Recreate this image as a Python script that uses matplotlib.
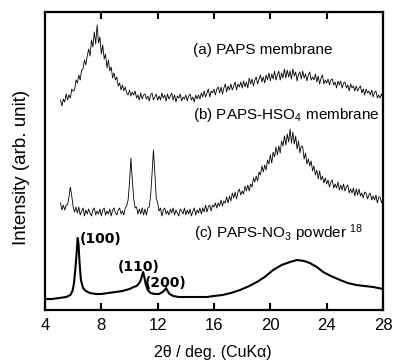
import numpy as np
import matplotlib
matplotlib.use("Agg")
import matplotlib.pyplot as plt

plt.rcParams['font.family'] = ['Liberation Sans', 'DejaVu Sans']
plt.rcParams['mathtext.default'] = 'regular'

# 2theta grid for the two membrane scans (step 0.1 deg)
two_theta_ab = np.round(np.arange(5.1, 28.0001, 0.1), 1)

# (a) PAPS membrane (arb. units)
int_a = [
    210, 204, 211, 208, 216, 210, 215, 212, 221, 219,
    220, 230, 227, 235, 230, 240, 241, 250, 245, 254,
    261, 254, 270, 263, 278, 266, 285, 267, 273, 256,
    265, 251, 256, 242, 250, 239, 243, 232, 237, 230,
    233, 224, 227, 220, 225, 219, 223, 217, 215, 220,
    214, 218, 215, 219, 212, 215, 210, 217, 211, 215,
    216, 211, 214, 209, 215, 217, 210, 213, 216, 210,
    214, 210, 217, 212, 215, 209, 216, 211, 214, 217,
    210, 215, 208, 214, 212, 216, 209, 213, 211, 215,
    209, 214, 216, 210, 213, 208, 215, 211, 215, 211,
    217, 213, 219, 213, 217, 221, 213, 219, 217, 221,
    215, 221, 223, 217, 223, 216, 222, 226, 218, 224,
    220, 226, 220, 224, 228, 220, 226, 223, 228, 222,
    229, 223, 228, 222, 232, 226, 231, 224, 230, 233,
    226, 231, 235, 228, 233, 227, 235, 230, 237, 229,
    236, 231, 239, 230, 235, 239, 230, 237, 232, 241,
    232, 240, 233, 239, 231, 241, 234, 238, 229, 236,
    238, 231, 239, 232, 236, 229, 235, 238, 230, 233,
    230, 236, 228, 234, 226, 232, 235, 226, 230, 227,
    231, 225, 230, 231, 225, 228, 222, 229, 225, 229,
    222, 227, 228, 222, 225, 219, 226, 222, 224, 219,
    224, 219, 222, 224, 217, 221, 215, 221, 217, 219,
    215, 220, 213, 218, 219, 212, 215, 212, 216, 212,
]

# (b) PAPS-HSO4 membrane (arb. units)
int_b = [
    107, 100, 105, 100, 105, 105, 113, 123, 114, 103,
    98, 103, 97, 103, 95, 99, 102, 94, 100, 96,
    101, 97, 94, 100, 102, 95, 99, 96, 101, 94,
    100, 102, 95, 99, 96, 101, 94, 100, 102, 97,
    95, 100, 102, 96, 99, 95, 102, 104, 110, 127,
    152, 130, 111, 102, 103, 96, 101, 96, 102, 95,
    101, 95, 102, 103, 114, 136, 160, 137, 112, 107,
    99, 102, 94, 100, 102, 96, 99, 95, 101, 97,
    102, 95, 100, 97, 94, 101, 99, 96, 102, 95,
    100, 96, 101, 94, 99, 102, 95, 100, 97, 102,
    96, 102, 98, 105, 98, 103, 105, 99, 105, 103,
    107, 102, 107, 104, 110, 104, 109, 107, 113, 107,
    114, 109, 117, 112, 118, 111, 118, 121, 115, 119,
    116, 124, 119, 125, 119, 126, 123, 132, 128, 134,
    129, 138, 135, 144, 138, 145, 140, 150, 146, 155,
    147, 158, 153, 163, 155, 164, 157, 169, 164, 174,
    165, 176, 168, 181, 167, 178, 166, 174, 161, 169,
    157, 164, 163, 151, 157, 146, 151, 144, 149, 139,
    144, 135, 140, 131, 139, 130, 134, 127, 132, 126,
    130, 123, 128, 130, 122, 126, 122, 128, 120, 125,
    120, 126, 119, 123, 125, 117, 121, 117, 122, 114,
    121, 115, 121, 114, 117, 112, 118, 117, 111, 115,
    117, 110, 114, 110, 115, 107, 113, 113, 107, 111,
]

# (c) PAPS-NO3 powder (arb. units)
two_theta_c = [4.0, 4.5, 5.0, 5.5, 5.8, 5.95, 6.05, 6.15, 6.25, 6.32,
               6.38, 6.45, 6.55, 6.7, 6.9, 7.2, 7.6, 8.0, 8.5, 9.0,
               9.5, 10.0, 10.3, 10.5, 10.7, 10.8, 10.9, 10.97, 11.05, 11.15,
               11.3, 11.5, 11.8, 12.1, 12.35, 12.5, 12.6, 12.7, 12.85, 13.1,
               13.5, 14.0, 14.5, 15.0, 15.5, 16.0, 16.6, 17.2, 17.85, 18.5,
               19.05, 19.6, 20.2, 20.8, 21.4, 21.9, 22.4, 22.8, 23.3, 23.75,
               24.3, 24.95, 25.5, 26.1, 26.7, 27.3, 28.0]
int_c = [11, 11, 12, 13, 15, 19, 26, 40, 58, 72,
         66, 48, 30, 22, 19, 17, 16, 16, 17, 18,
         19, 21, 23, 24, 27, 30, 35, 38, 33, 26,
         20, 17, 16, 16, 18, 20, 22, 19, 16, 14,
         13, 13, 13, 13, 13, 14, 15, 17, 20, 24,
         28, 33, 40, 45, 48, 50, 49, 47, 43, 38,
         34, 30, 27, 25, 24, 23, 21]

curve_labels = ["(a) PAPS membrane",
                "(b) PAPS-HSO$_4$ membrane",
                "(c) PAPS-NO$_3$ powder $^{18}$"]
label_pos = [(14.5, 260), (14.5, 195), (14.6, 77)]

hkl_labels = ["(100)", "(110)", "(200)"]
hkl_pos = [(6.5, 71), (9.2, 43), (11.1, 27)]

xticks = [4, 8, 12, 16, 20, 24, 28]

fig = plt.figure(figsize=(3.93, 3.60), dpi=100)
ax = fig.add_axes([45/393, 50/360, 338/393, 298/360])

ax.plot(two_theta_ab, int_a, color='black', lw=0.6)
ax.plot(two_theta_ab, int_b, color='black', lw=0.6)
ax.plot(two_theta_c, int_c, color='black', lw=1.5)

for txt, (x, y) in zip(curve_labels, label_pos):
    ax.text(x, y, txt, fontsize=11, ha='left', va='center')
for txt, (x, y) in zip(hkl_labels, hkl_pos):
    ax.text(x, y, txt, fontsize=10, fontweight='bold', family='DejaVu Sans',
            ha='left', va='center')

ax.set_xlim(4, 28)
ax.set_ylim(0, 298)
ax.set_xticks(xticks)
ax.set_yticks([])
ax.tick_params(axis='x', direction='in', top=True, length=5, width=1.5,
               labelsize=12, pad=6)
for s in ax.spines.values():
    s.set_linewidth(1.6)

ax.set_xlabel("2θ / deg. (CuKα)", fontsize=11.5, va='center')
ax.xaxis.set_label_coords(0.497, -0.141)
ax.set_ylabel("Intensity (arb. unit)", fontsize=13.5, va='center')
ax.yaxis.set_label_coords(-0.071, 0.477)

fig.savefig("out.png", dpi=100)
